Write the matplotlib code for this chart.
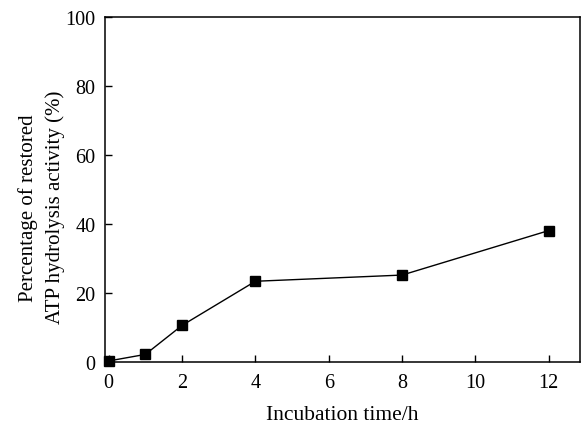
import matplotlib
matplotlib.use("Agg")
import matplotlib.pyplot as plt

# Data
time_h = [0, 1, 2, 4, 8, 12]
restored_pct = [0.3, 2.2, 10.6, 23.4, 25.2, 38.1]
x_ticks = [0, 2, 4, 6, 8, 10, 12]
y_ticks = [0, 20, 40, 60, 80, 100]

plt.rcParams['font.family'] = ['Liberation Serif', 'DejaVu Serif']

fig = plt.figure(figsize=(5.85, 4.27), dpi=100)
ax = fig.add_axes([105 / 585, 1 - 363 / 427, 475 / 585, 345 / 427])

ax.plot(time_h, restored_pct, color='black', linewidth=1.0,
        marker='s', markersize=7, markerfacecolor='black',
        markeredgecolor='black', clip_on=False, zorder=3)

ax.set_xlim(-0.1, 12.85)
ax.set_ylim(0, 100)
ax.set_xticks(x_ticks)
ax.set_yticks(y_ticks)
ax.tick_params(direction='in', length=5, width=1.0, labelsize=14.5,
               top=False, right=False)
ax.tick_params(axis='x', pad=8)
ax.tick_params(axis='y', pad=7)
for s in ax.spines.values():
    s.set_linewidth(1.1)

ax.set_xlabel('Incubation time/h', fontsize=15.5, labelpad=9)
ax.set_ylabel('Percentage of restored\nATP hydrolysis activity (%)',
              fontsize=15, linespacing=1.5)
ax.yaxis.set_label_coords(-0.085, 0.45)

fig.savefig('out.png', dpi=100)
